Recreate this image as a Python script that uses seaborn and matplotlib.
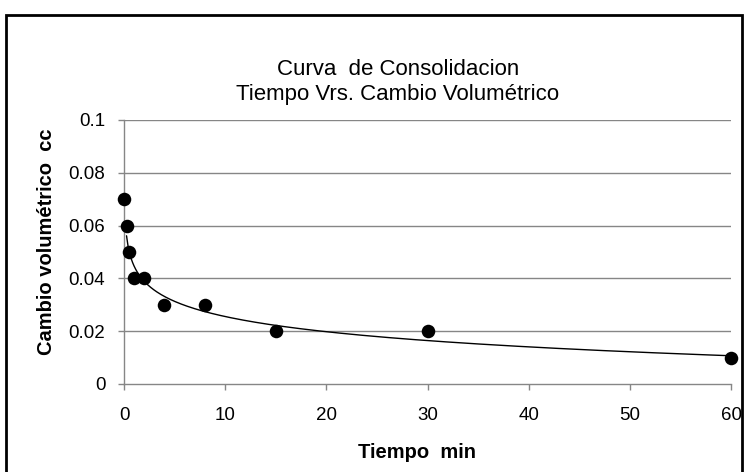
import numpy as np
import pandas as pd
import matplotlib
matplotlib.use("Agg")
import matplotlib.pyplot as plt
import seaborn as sns
from matplotlib.patches import Rectangle

# ---- data ----
tiempo_min = [0, 0.25, 0.5, 1, 2, 4, 8, 15, 30, 60]
cambio_cc = [0.07, 0.06, 0.05, 0.04, 0.04, 0.03, 0.03, 0.02, 0.02, 0.01]
x_ticks = [0, 10, 20, 30, 40, 50, 60]
x_tick_labels = ["0", "10", "20", "30", "40", "50", "60"]
y_ticks = [0, 0.02, 0.04, 0.06, 0.08, 0.1]
y_tick_labels = ["0", "0.02", "0.04", "0.06", "0.08", "0.1"]
title_1 = "Curva  de Consolidacion"
title_2 = "Tiempo Vrs. Cambio Volumétrico"
x_label = "Tiempo  min"
y_label = "Cambio volumétrico  cc"

df = pd.DataFrame({"t": tiempo_min, "v": cambio_cc})

# logarithmic trendline (Excel style), fitted on the points with t > 0
pos = df[df["t"] > 0]
b, a = np.polyfit(np.log(pos["t"]), pos["v"], 1)
t_fit = np.linspace(pos["t"].min(), pos["t"].max(), 400)
trend = pd.DataFrame({"t": t_fit, "v": a + b * np.log(t_fit)})

sns.set_theme(style="white")
plt.rcParams["font.family"] = ["Liberation Sans", "DejaVu Sans"]

fig = plt.figure(figsize=(7.45, 4.72), dpi=100)
ax = fig.add_axes([124 / 745, 1 - 384 / 472, (731 - 124) / 745, (384 - 120) / 472])

grid_c = "#868686"
for yv in y_ticks[1:]:
    ax.axhline(yv, color=grid_c, lw=1.0, zorder=0)

sns.lineplot(data=trend, x="t", y="v", ax=ax, color="black", lw=1.0,
             zorder=2, legend=False)
sns.scatterplot(data=df, x="t", y="v", ax=ax, color="black", s=95,
                edgecolor="black", linewidth=0, zorder=3, clip_on=False,
                legend=False)

ax.set_xlim(0, 60)
ax.set_ylim(0, 0.1)
ax.set_xticks(x_ticks)
ax.set_xticklabels(x_tick_labels)
ax.set_yticks(y_ticks)
ax.set_yticklabels(y_tick_labels)
ax.tick_params(axis="both", which="major", direction="out", length=4.5,
               width=1.0, color=grid_c, labelsize=13.5, labelcolor="black",
               left=True, bottom=True)
ax.tick_params(axis="x", pad=12)
ax.tick_params(axis="y", pad=9)

for s in ["top", "right"]:
    ax.spines[s].set_visible(False)
for s in ["left", "bottom"]:
    ax.spines[s].set_color(grid_c)
    ax.spines[s].set_linewidth(1.0)

ax.set_xlabel(x_label, fontsize=14.5, fontweight="bold", color="black")
ax.set_ylabel(y_label, fontsize=14.5, fontweight="bold", color="black")
ax.xaxis.set_label_coords((417 - 124) / 607, (384 - 453) / 264)
ax.xaxis.label.set_va("center")
ax.yaxis.set_label_coords((47 - 124) / 607, (384 - 242) / 264)
ax.yaxis.label.set_va("center")

fig.text(398 / 745, 1 - 75 / 472, title_1, ha="center", va="baseline",
         fontsize=16, color="black")
fig.text(398 / 745, 1 - 100 / 472, title_2, ha="center", va="baseline",
         fontsize=16, color="black")

fig.patches.append(Rectangle((6 / 745, -0.05), (742 - 6) / 745,
                             1.05 - 15 / 472, transform=fig.transFigure,
                             fill=False, edgecolor="black", lw=2.0))

fig.savefig("out.png", dpi=100)
